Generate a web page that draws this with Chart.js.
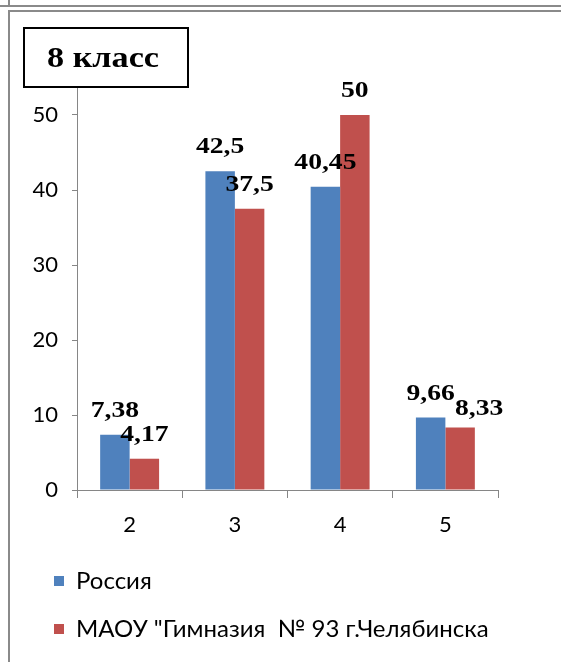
<!DOCTYPE html>
<html>
<head>
<meta charset="utf-8">
<script src="https://cdn.jsdelivr.net/npm/chart.js@4"></script>
<style>
  body { margin: 0; background: #fff; }
  .wrap { position: relative; width: 561px; height: 662px; overflow: hidden; }
  .top { position: absolute; left: 8px; top: -10px; width: 600px; height: 15px; border-left: 2px solid #8a8a8a; border-bottom: 2px solid #8a8a8a; }
  .top2 { position: absolute; left: 0; top: 5px; width: 10px; border-top: 2px solid #8a8a8a; }
  .frame { position: absolute; left: 8px; top: 10px; width: 600px; height: 700px; border-left: 2px solid #8a8a8a; border-top: 2px solid #8a8a8a; }
  canvas { position: absolute; left: 0; top: 0; }
</style>
</head>
<body>
<div class="wrap">
  <div class="top"></div>
  <div class="top2"></div>
  <div class="frame"></div>
  <canvas id="myChart" width="561" height="662"></canvas>
</div>
<script>
  // data
  const categories = ['2', '3', '4', '5']
  const russia = [7.38, 42.5, 40.45, 9.66]
  const school = [4.17, 37.5, 50, 8.33]
  const seriesNames = ['Россия', 'МАОУ "Гимназия  № 93 г.Челябинска']
  const yMin = 0
  const yMax = 60
  const yStep = 10

  const blue = '#4f81bd'
  const red = '#c0504d'
  const axisColor = '#868686'
  const sans = 'Lato'

  // one label was moved by hand in the original (school, "5")
  const labelNudge = { '1-3': [19, 5] }

  // draw text stretched sideways, like the original rendering
  function wideText(c, txt, x, y, sx) {
    c.save()
    c.translate(x, y)
    c.scale(sx, 1)
    c.fillText(txt, 0, 0)
    c.restore()
  }

  // title box "8 класс"
  const titleBox = {
    id: 'titleBox',
    afterDraw(chart) {
      const c = chart.ctx
      c.save()
      c.fillStyle = '#fff'
      c.fillRect(23, 27, 166, 61)
      c.strokeStyle = '#000'
      c.lineWidth = 2
      c.strokeRect(24, 28, 164, 59)
      c.fillStyle = '#000'
      c.font = 'bold 30px "Liberation Serif"'
      c.textBaseline = 'alphabetic'
      wideText(c, '8 класс', 47, 67, 1.14)
      c.restore()
    }
  }

  // value labels over the bars
  const valueLabels = {
    id: 'valueLabels',
    afterDatasetsDraw(chart) {
      const c = chart.ctx
      c.save()
      c.font = 'bold 24px "Liberation Serif"'
      c.fillStyle = '#000'
      c.textAlign = 'center'
      c.textBaseline = 'alphabetic'
      chart.data.datasets.forEach((ds, i) => {
        chart.getDatasetMeta(i).data.forEach((bar, j) => {
          const txt = String(ds.data[j]).replace('.', ',')
          const n = labelNudge[i + '-' + j] || [0, 0]
          wideText(c, txt, bar.x + n[0], bar.y - 18 + n[1], 1.15)
        })
      })
      c.restore()
    }
  }

  // legend, one item per line
  const legendList = {
    id: 'legendList',
    afterDraw(chart) {
      const c = chart.ctx
      c.save()
      c.font = '24px ' + sans
      c.textBaseline = 'middle'
      chart.data.datasets.forEach((ds, i) => {
        const y = 581 + i * 48
        c.fillStyle = ds.backgroundColor
        c.fillRect(54, y - 5, 10, 10)
        c.fillStyle = '#000'
        c.fillText(ds.label, 76, y)
      })
      c.restore()
    }
  }

  const ctx = document.getElementById('myChart')

  new Chart(ctx, {
    type: 'bar',
    data: {
      labels: categories,
      datasets: [
        { label: seriesNames[0], data: russia, backgroundColor: blue },
        { label: seriesNames[1], data: school, backgroundColor: red }
      ]
    },
    options: {
      responsive: false,
      animation: false,
      categoryPercentage: 0.56,
      barPercentage: 1,
      layout: { padding: { top: 40, right: 63, bottom: 122, left: 0 } },
      scales: {
        x: {
          grid: { drawOnChartArea: false, tickLength: 8, color: axisColor },
          border: { color: axisColor },
          ticks: { font: { family: sans, size: 22 }, color: '#000', padding: 14 },
          afterFit: (s) => { s.height = 50 }
        },
        y: {
          min: yMin,
          max: yMax,
          grid: { drawOnChartArea: false, tickLength: 5, color: axisColor },
          border: { color: axisColor },
          ticks: { stepSize: yStep, font: { family: sans, size: 22 }, color: '#000', padding: 14 },
          afterFit: (s) => { s.width = 77 }
        }
      },
      plugins: {
        legend: { display: false },
        tooltip: { enabled: false }
      }
    },
    plugins: [valueLabels, titleBox, legendList]
  })
</script>
</body>
</html>
